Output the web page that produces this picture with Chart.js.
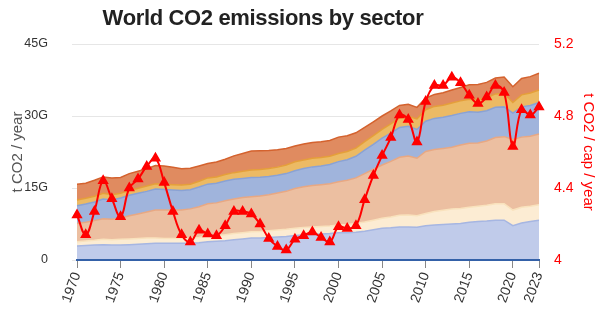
<!DOCTYPE html>
<html>
<head>
<meta charset="utf-8">
<script src="https://cdn.jsdelivr.net/npm/chart.js@4/dist/chart.umd.min.js"></script>
<style>
  html, body { margin: 0; padding: 0; background: #fff; }
  #wrap { position: relative; width: 600px; height: 321px; }
  #title { position: absolute; left: 0; top: 5px; width: 526px; text-align: center;
           font: bold 22px "Liberation Sans", Arial, sans-serif; letter-spacing: -0.35px; color: #222; }
  canvas { position: absolute; left: 0; top: 0; }
</style>
</head>
<body>
<div id="wrap">
  <canvas id="c" width="600" height="321"></canvas>
  <div id="title">World CO2 emissions by sector</div>
</div>
<script>
const years = [];
for (let y = 1970; y <= 2023; y++) years.push(String(y));

const transport = [2.9,3.0,3.1,3.2,3.1,3.1,3.2,3.3,3.4,3.5, 3.5,3.5,3.5,3.5,3.6,3.8,3.9,4.0,4.2,4.4, 4.6,4.6,4.7,4.8,4.9,5.1,5.2,5.3,5.4,5.5, 5.7,5.7,5.8,6.0,6.3,6.6,6.7,6.9,6.9,6.8, 7.15,7.3,7.4,7.5,7.6,7.85,8.0,8.1,8.3,8.3, 7.15,7.7,8.0,8.3];
const processes = [0.9,0.95,1.0,1.1,1.1,1.2,1.2,1.2,1.2,1.1, 1.0,1.0,1.0,1.05,1.1,1.2,1.2,1.25,1.3,1.3, 1.3,1.35,1.4,1.45,1.5,1.5,1.55,1.6,1.6,1.6, 1.6,1.7,1.8,1.9,2.0,2.1,2.25,2.4,2.45,2.4, 2.55,2.8,2.95,3.1,3.15,3.15,3.2,3.3,3.4,3.4, 3.25,3.3,3.2,3.2];
const power = [3.8,3.9,4.1,4.3,4.3,4.4,4.8,5.1,5.4,5.8, 5.9,5.9,5.9,6.1,6.4,6.7,6.8,7.1,7.2,7.3, 7.3,7.4,7.5,7.7,7.9,8.3,8.5,8.6,8.7,8.8, 9.0,9.2,9.5,10.1,10.6,11.1,11.6,12.1,12.3,12.0, 12.9,12.9,12.9,12.9,13.2,13.3,13.2,13.4,13.8,14.0, 14.7,14.6,14.6,14.75];
const industry = [3.7,3.8,3.9,4.1,4.0,4.2,4.3,4.3,4.3,4.4, 4.3,4.2,4.1,4.0,4.1,4.1,4.1,4.1,4.1,4.0, 4.0,3.9,3.8,3.7,3.7,3.7,3.8,3.9,3.9,4.0, 4.2,4.3,4.5,4.9,5.2,5.6,5.9,6.2,6.2,6.0, 6.3,6.5,6.5,6.6,6.6,6.6,6.4,6.3,6.3,6.2, 5.5,6.3,6.4,6.55];
const fuelExploitation = [1.2,1.2,1.2,1.2,1.1,1.0,1.0,1.05,1.1,1.1, 1.1,1.1,1.1,1.15,1.2,1.3,1.3,1.35,1.4,1.5, 1.55,1.6,1.65,1.7,1.8,1.85,1.8,1.8,1.75,1.7, 1.7,1.7,1.7,1.75,1.8,1.8,1.9,2.0,2.1,2.2, 2.4,2.5,2.5,2.6,2.6,2.6,2.65,2.7,2.8,2.8, 2.2,2.5,2.6,2.6];
const buildings = [3.3,3.15,3.3,3.4,3.5,3.3,3.5,3.55,3.6,3.8, 3.8,3.6,3.4,3.3,3.2,3.0,3.1,3.2,3.5,3.7, 3.95,3.9,3.75,3.6,3.45,3.3,3.3,3.3,3.3,3.3, 3.4,3.3,3.2,3.0,2.9,2.8,2.7,2.6,2.5,2.4, 2.4,2.5,2.6,2.7,2.8,3.0,3.1,3.2,3.3,3.4, 3.3,3.4,3.4,3.5];
const perCapita = [4.25,4.14,4.27,4.44,4.34,4.24,4.40,4.45,4.52,4.565, 4.43,4.27,4.14,4.10,4.165,4.145,4.135,4.19,4.27,4.27, 4.255,4.20,4.12,4.075,4.055,4.115,4.135,4.155,4.125,4.10, 4.185,4.175,4.19,4.335,4.47,4.58,4.68,4.805,4.78,4.655, 4.88,4.97,4.97,5.015,4.985,4.915,4.87,4.905,4.97,4.93, 4.63,4.835,4.805,4.85];

const leftTicks = [0, 15, 30, 45];
const rightTicks = [4, 4.4, 4.8, 5.2];
const shownYears = ['1970','1975','1980','1985','1990','1995','2000','2005','2010','2015','2020','2023'];

function area(label, data, fill, border, first) {
  return { type: 'line', label, data, yAxisID: 'y', order: 1,
    backgroundColor: fill, borderColor: border, borderWidth: 1.5,
    fill: first ? 'origin' : '-1', pointRadius: 0, pointHoverRadius: 0, tension: 0 };
}

new Chart(document.getElementById('c'), {
  data: {
    labels: years,
    datasets: [
      { type: 'line', label: 'Per capita', data: perCapita, yAxisID: 'y1', order: 0,
        borderColor: '#ff0000', backgroundColor: '#ff0000', borderWidth: 2, fill: false,
        pointStyle: 'triangle', pointRadius: 4.5, tension: 0.4 },
      area('Transport', transport, '#c0cbea', '#a6b6e2', true),
      area('Processes', processes, '#fcecd3', '#f9e2bd', false),
      area('Power industry', power, '#ecbfa1', '#e8a883', false),
      area('Industrial combustion', industry, '#a0b4dc', '#8aa2d4', false),
      area('Fuel exploitation', fuelExploitation, '#ecba64', '#e59f3a', false),
      area('Buildings', buildings, '#e08b60', '#d4622e', false)
    ]
  },
  options: {
    responsive: false,
    animation: false,
    layout: { padding: { top: 44, left: 6, right: 0, bottom: 0 } },
    plugins: { legend: { display: false }, title: { display: false }, tooltip: { enabled: false } },
    scales: {
      x: {
        type: 'category',
        afterFit: s => { s.height = 61; },
        border: { display: true, color: '#3461a8', width: 2, z: 1 },
        grid: { drawOnChartArea: false, drawTicks: true, tickLength: 8, color: '#888' },
        ticks: {
          autoSkip: false, minRotation: 70, maxRotation: 70, color: '#333', padding: 2,
          font: { family: 'Liberation Sans', size: 14 },
          callback: function(v, i) { const l = years[i]; return shownYears.includes(l) ? l : null; }
        }
      },
      y: {
        position: 'left', stacked: true, min: 0, max: 45,
        afterFit: s => { s.width = 71; },
        afterBuildTicks: s => { s.ticks = leftTicks.map(v => ({ value: v })); },
        border: { display: false },
        grid: { color: '#e6e6e6', tickLength: 5 },
        ticks: { color: '#333', padding: 24, font: { family: 'Liberation Sans', size: 12.5 },
          callback: v => v === 0 ? '0' : v + 'G' },
        title: { display: true, text: 't CO2 / year', color: '#555', padding: { top: 3, bottom: 0 },
          font: { family: 'Liberation Sans', size: 15 } }
      },
      y1: {
        position: 'right', min: 4, max: 5.2,
        afterFit: s => { s.width = 61; },
        afterBuildTicks: s => { s.ticks = rightTicks.map(v => ({ value: v })); },
        border: { display: false },
        grid: { display: false, drawTicks: false },
        ticks: { color: '#ff0000', padding: 15, font: { family: 'Liberation Sans', size: 14 },
          callback: v => String(+v.toFixed(1)) },
        title: { display: true, text: 't CO2 / cap / year', color: '#ff0000', padding: { top: 3, bottom: 0 },
          font: { family: 'Liberation Sans', size: 15 } }
      }
    }
  }
});
</script>
</body>
</html>
